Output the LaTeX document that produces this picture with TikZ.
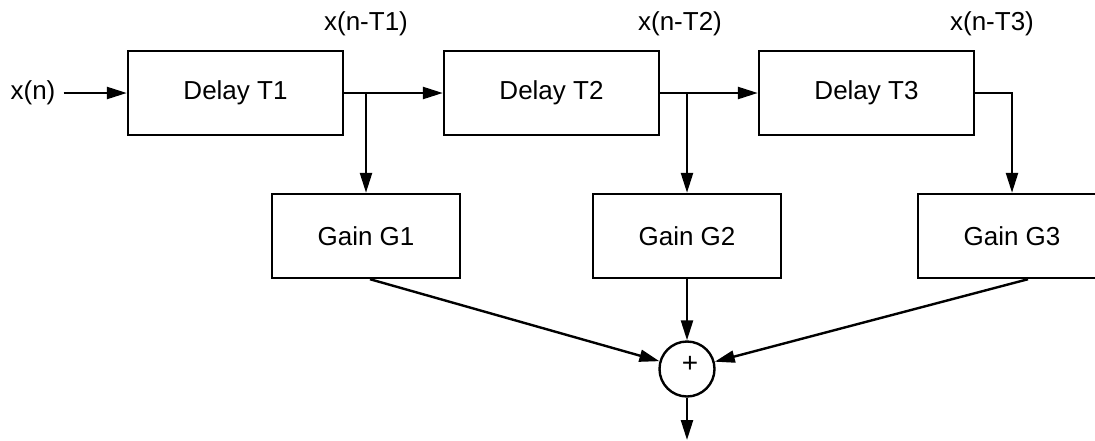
\documentclass[tikz,border=0pt]{standalone}
\usepackage{fontspec}
\setmainfont{Liberation Sans}
\usetikzlibrary{arrows.meta}
\begin{document}
\begin{tikzpicture}[x=1pt,y=-1pt,
  font=\fontsize{26}{30}\selectfont,
  line width=2.4pt,
  blk/.style={draw, rectangle, inner sep=0pt, minimum height=84pt},
  dbox/.style={blk, minimum width=215pt},
  gbox/.style={blk, minimum width=188pt},
  lbl/.style={inner sep=0pt, anchor=center},
  arr/.style={-{Triangle[length=20pt,width=12pt]}}
]
\clip (0,0) rectangle (1095,440);
\fill[white] (0,0) rectangle (1095,440);

\node[lbl] (xin) at (33,93) {x(n)};
\node[dbox] (t1) at (235.5,93) {Delay T1};
\node[dbox] (t2) at (551.5,93) {Delay T2};
\node[dbox] (t3) at (866.5,93) {Delay T3};

\node[lbl] (l1) at (366,24) {x(n-T1)};
\node[lbl] (l2) at (680,24) {x(n-T2)};
\node[lbl] (l3) at (992,24) {x(n-T3)};

\node[gbox] (g1) at (366,236) {Gain G1};
\node[gbox] (g2) at (687,236) {Gain G2};
\node[gbox] (g3) at (1012,236) {Gain G3};

\node[draw, circle, minimum size=55pt, inner sep=0pt] (s) at (687,369) {};
\node[lbl, font=\fontsize{28}{30}\selectfont] (plus) at (690,364) {+};

\coordinate (b1) at (366,93);
\coordinate (b2) at (687,93);
\coordinate (b3) at (1012,93);
\coordinate (out) at (687,440);

\draw[arr] (xin.east) ++(7,0) -- (t1.west);
\draw (t1.east) -- (b1);
\draw[arr] (b1) -- (t2.west);
\draw[arr] (b1) -- (g1.north);
\draw (t2.east) -- (b2);
\draw[arr] (b2) -- (t3.west);
\draw[arr] (b2) -- (g2.north);
\draw[arr] (t3.east) -- (b3) -- (g3.north);

\draw[arr] ([xshift=4pt]g1.south) -- (s);
\draw[arr] (g2.south) -- (s.north);
\draw[arr] ([xshift=16pt]g3.south) -- (s);
\draw[arr] (s.south) -- (out);
\end{tikzpicture}
\end{document}
